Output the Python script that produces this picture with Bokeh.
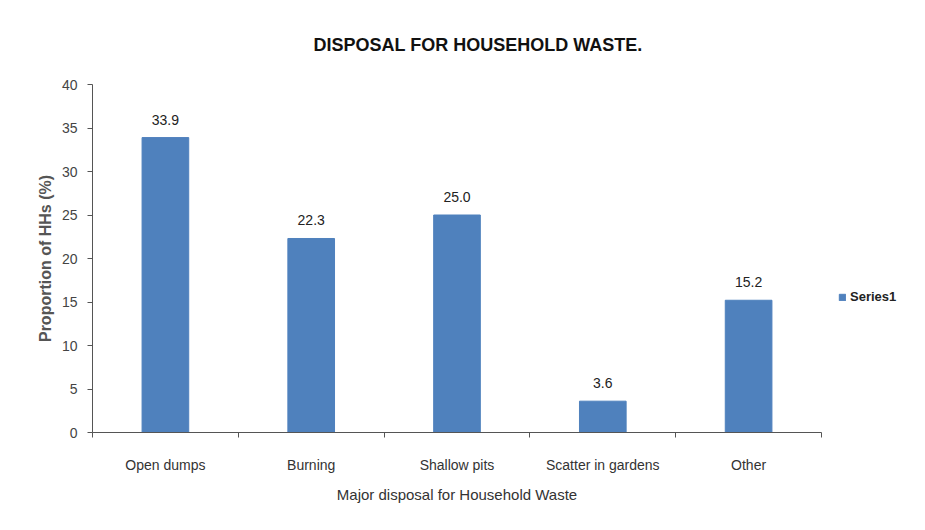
from bokeh.plotting import figure
from bokeh.models import FixedTicker, Legend, LegendItem, ColumnDataSource, LabelSet
from bokeh.core.properties import value
from bokeh.embed import file_html
from bokeh.resources import INLINE

categories = ["Open dumps", "Burning", "Shallow pits", "Scatter in gardens", "Other"]
values = [33.9, 22.3, 25.0, 3.6, 15.2]
value_labels = ["33.9", "22.3", "25.0", "3.6", "15.2"]
y_ticks = [0, 5, 10, 15, 20, 25, 30, 35, 40]

FONT = "Liberation Sans"
BLUE = "#4F81BD"

xs = [i + 0.5 for i in range(len(categories))]
src = ColumnDataSource(dict(x=xs, top=values, lab=value_labels))

p = figure(frame_width=729, frame_height=348, x_range=(0, len(categories)), y_range=(0, 40),
           output_backend="svg", toolbar_location=None,
           min_border_left=92, min_border_right=104, min_border_top=84, min_border_bottom=98)

r = p.vbar(x="x", top="top", width=0.32, bottom=0, source=src, fill_color=BLUE, line_color=BLUE)

labels = LabelSet(x="x", y="top", text="lab", source=src, y_offset=13, text_align="center",
                  text_baseline="bottom", text_font=value(FONT), text_font_size=value("14px"),
                  text_color="#222222")
p.add_layout(labels)

p.title.text = "DISPOSAL FOR HOUSEHOLD WASTE."
p.title.align = "left"
p.title.offset = 221
p.title.standoff = 59
p.title.text_font = FONT
p.title.text_font_size = "18px"
p.title.text_font_style = "bold"
p.title.text_color = "#111111"

p.xgrid.visible = False
p.ygrid.visible = False
p.outline_line_color = None

p.yaxis.ticker = FixedTicker(ticks=y_ticks)
p.yaxis.axis_label = "Proportion of HHs (%)"
p.yaxis.axis_label_text_font = FONT
p.yaxis.axis_label_text_font_size = "16px"
p.yaxis.axis_label_text_font_style = "bold"
p.yaxis.axis_label_text_color = "#555555"
p.yaxis.major_label_text_font = FONT
p.yaxis.major_label_text_font_size = "14px"
p.yaxis.major_label_text_color = "#444444"
p.yaxis.axis_line_color = "#555555"
p.yaxis.major_tick_line_color = "#555555"
p.yaxis.major_tick_out = 5
p.yaxis.major_tick_in = 0
p.yaxis.minor_tick_line_color = None
p.yaxis.major_label_standoff = 10

p.xaxis.ticker = FixedTicker(ticks=xs, minor_ticks=list(range(len(categories) + 1)))
p.xaxis.major_label_overrides = {x: c for x, c in zip(xs, categories)}
p.xaxis.major_tick_line_color = None
p.xaxis.minor_tick_line_color = "#555555"
p.xaxis.minor_tick_out = 5
p.xaxis.minor_tick_in = 0
p.xaxis.axis_line_color = "#555555"
p.xaxis.major_label_text_font = FONT
p.xaxis.major_label_text_font_size = "14px"
p.xaxis.major_label_text_color = "#333333"
p.xaxis.major_label_standoff = 18
p.xaxis.axis_label = "Major disposal for Household Waste"
p.xaxis.axis_label_text_font = FONT
p.xaxis.axis_label_text_font_size = "15px"
p.xaxis.axis_label_text_font_style = "normal"
p.xaxis.axis_label_text_color = "#333333"
p.xaxis.axis_label_standoff = 10

legend = Legend(items=[LegendItem(label="Series1", renderers=[r])], location=(17, 128),
                label_text_font=FONT, label_text_font_size="13px", label_text_font_style="bold",
                label_text_color="#222222", glyph_width=8, glyph_height=8,
                border_line_color=None, background_fill_alpha=0, padding=0, margin=0, label_standoff=4)
p.add_layout(legend, "right")

open("out.html", "w").write(file_html(p, INLINE))
